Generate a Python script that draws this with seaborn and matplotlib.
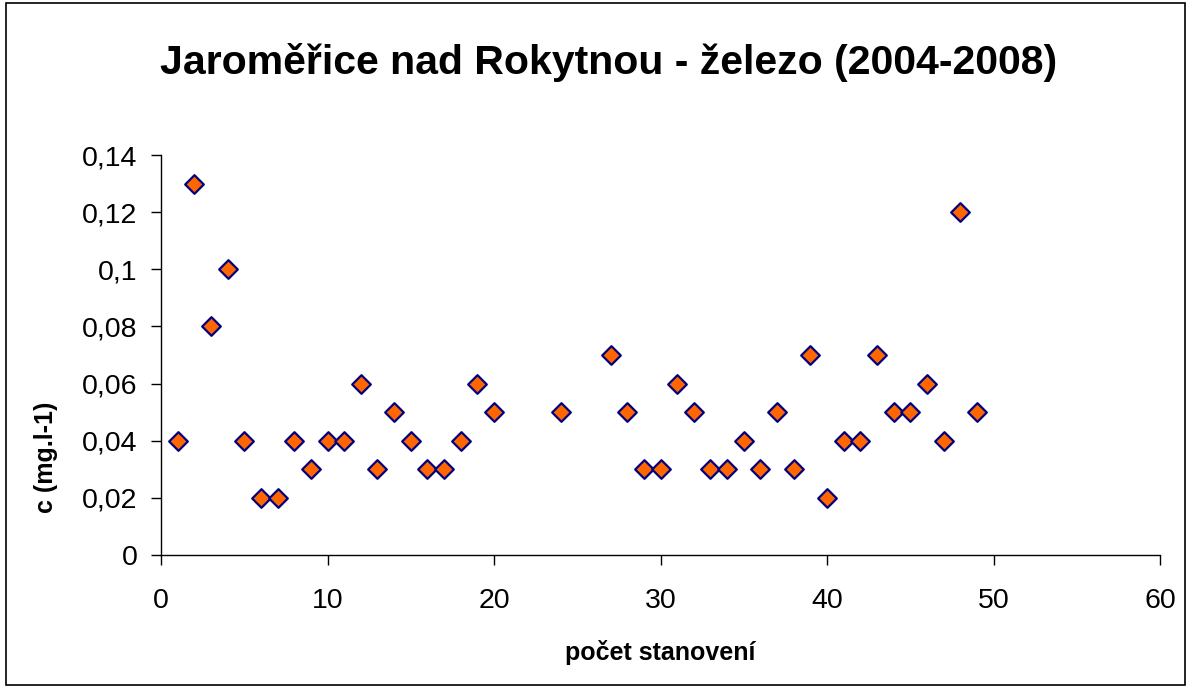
import matplotlib
matplotlib.use("Agg")
import matplotlib.pyplot as plt
import matplotlib.ticker as mtick
import seaborn as sns
import pandas as pd
from matplotlib.patches import Rectangle

# data
x_vals = [1, 2, 3, 4, 5, 6, 7, 8, 9, 10, 11, 12, 13, 14, 15, 16, 17, 18, 19, 20,
          24, 27, 28, 29, 30, 31, 32, 33, 34, 35, 36, 37, 38, 39, 40, 41, 42, 43,
          44, 45, 46, 47, 48, 49]
c_vals = [0.04, 0.13, 0.08, 0.10, 0.04, 0.02, 0.02, 0.04, 0.03, 0.04, 0.04, 0.06,
          0.03, 0.05, 0.04, 0.03, 0.03, 0.04, 0.06, 0.05,
          0.05, 0.07, 0.05, 0.03, 0.03, 0.06, 0.05, 0.03, 0.03, 0.04, 0.03, 0.05,
          0.03, 0.07, 0.02, 0.04, 0.04, 0.07, 0.05, 0.05, 0.06, 0.04, 0.12, 0.05]
x_ticks = [0, 10, 20, 30, 40, 50, 60]
y_ticks = [0, 0.02, 0.04, 0.06, 0.08, 0.10, 0.12, 0.14]

df = pd.DataFrame({"n": x_vals, "c": c_vals})

sns.set_theme(style="white")
plt.rcParams["font.family"] = ["Liberation Sans", "DejaVu Sans"]
plt.rcParams["text.color"] = "black"

fig = plt.figure(figsize=(11.91, 6.88), dpi=100)
ax = fig.add_axes([0.1352, 0.1933, 0.8388, 0.5814])

sns.scatterplot(data=df, x="n", y="c", marker="D", s=90, color="#FF6600",
                edgecolor="#000080", linewidth=1.6, ax=ax, zorder=3, clip_on=False)

ax.set_xlim(0, 60)
ax.set_ylim(0, 0.14)
ax.set_xticks(x_ticks)
ax.set_yticks(y_ticks)
ax.yaxis.set_major_formatter(mtick.FuncFormatter(
    lambda v, p: "0" if v == 0 else f"{v:.2f}".rstrip("0").replace(".", ",")))
ax.tick_params(axis="both", direction="out", length=7, width=1, colors="black",
               labelsize=20.5, bottom=True, left=True)
ax.tick_params(axis="y", pad=10)
ax.tick_params(axis="x", pad=17)

for s in ["top", "right"]:
    ax.spines[s].set_visible(False)
for s in ["left", "bottom"]:
    ax.spines[s].set_color("black")
    ax.spines[s].set_linewidth(1)

ax.set_xlabel("počet stanovení", fontsize=18, fontweight="bold", color="black")
ax.set_ylabel("c (mg.l-1)", fontsize=18, fontweight="bold", color="black")
ax.xaxis.set_label_coords(0.5, -0.212)
ax.yaxis.set_label_coords(-0.103, 0.245)
fig.suptitle("Jaroměřice nad Rokytnou - železo (2004-2008)", fontsize=29.5,
             fontweight="bold", color="black", x=0.511, y=0.937)

fig.patches.append(Rectangle((0.005, 0.005), 0.99, 0.99, transform=fig.transFigure,
                             fill=False, edgecolor="black", linewidth=1.2))

fig.savefig("out.png", dpi=100)
